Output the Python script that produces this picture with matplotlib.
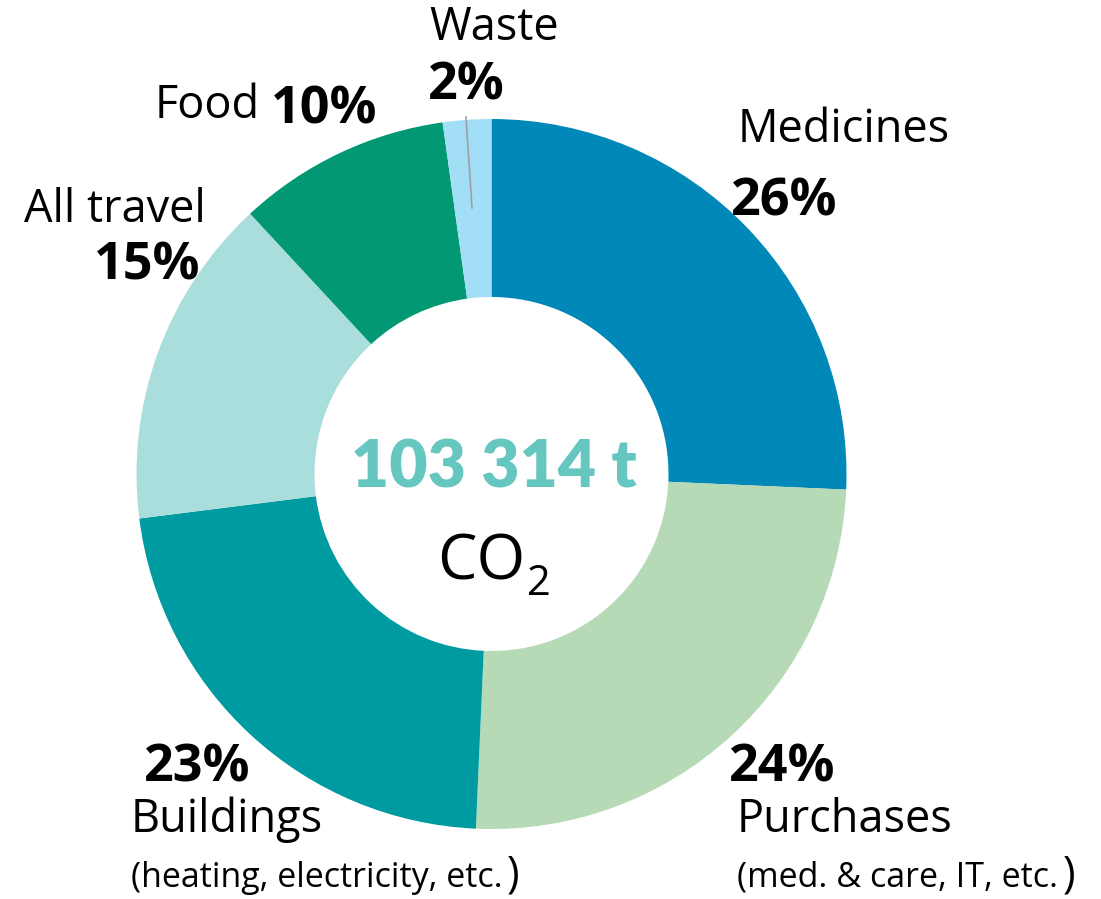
import matplotlib.pyplot as plt

# shares, labels as printed on the chart
categories = ["Medicines", "Purchases", "Buildings", "All travel", "Food", "Waste"]
shares = [25.7, 25.0, 22.3, 15.1, 9.7, 2.2]
pct_labels = ["26%", "24%", "23%", "15%", "10%", "2%"]
colors = ["#0088B8", "#B6D9B6", "#009BA0", "#A9DEDC", "#029874", "#A2DEF5"]
total_text = "103 314 t"

H = 899
fig = plt.figure(figsize=(11.01, 8.99), dpi=100)
ax = fig.add_axes([0, 0, 1, 1])
ax.set_xlim(0, 1101)
ax.set_ylim(0, H)
ax.set_aspect("equal")
ax.axis("off")

ax.pie(shares, colors=colors, startangle=90, counterclock=False,
       center=(491.5, H - 474), radius=355,
       wedgeprops=dict(width=178, linewidth=0))
ax.set_xlim(0, 1101)
ax.set_ylim(0, H)

font = "Open Sans"
norm = dict(fontsize=32.5, family=font, color="black", va="baseline")
bold = dict(fontsize=37.5, family=font, fontweight="bold", color="black", va="baseline")
small = dict(fontsize=24.5, family=font, color="black", va="baseline")
paren = dict(fontsize=31, family=font, color="black", va="baseline")

def t(x, y, s, style, ha="left"):
    ax.text(x, H - y, s, ha=ha, **style)

# Waste
t(494, 40, categories[5], norm, ha="center")
t(466, 100, pct_labels[5], bold, ha="center")
ax.plot([466, 472], [H - 117, H - 208], color="#A0A0A0", lw=1.2)

# Food
t(155, 118, categories[4], norm)
t(271, 123, pct_labels[4], bold)

# All travel
t(24, 222, categories[3], norm)
t(94, 280, pct_labels[3], bold)

# Medicines
t(738, 142, categories[0], norm)
t(731, 215, pct_labels[0], bold)

# Buildings
t(144, 782, pct_labels[2], bold)
t(131, 832, categories[2], norm)
t(131, 887, "(heating, electricity, etc.", small)
t(507, 887, ")", paren)

# Purchases
t(729, 782, pct_labels[1], bold)
t(737, 832, categories[1], norm)
t(737, 887, "(med. & care, IT, etc.", small)
t(1063, 887, ")", paren)

# centre
ax.text(494, H - 488, total_text, ha="center", va="baseline", fontsize=47.5,
        family="Lato", fontweight="heavy", color="#66C6C0")
ax.text(525, H - 580, "CO", ha="right", va="baseline", fontsize=45,
        family=font, color="black")
ax.text(527, H - 595, "2", ha="left", va="baseline", fontsize=30,
        family=font, color="black")

fig.savefig("out.png", dpi=100)
